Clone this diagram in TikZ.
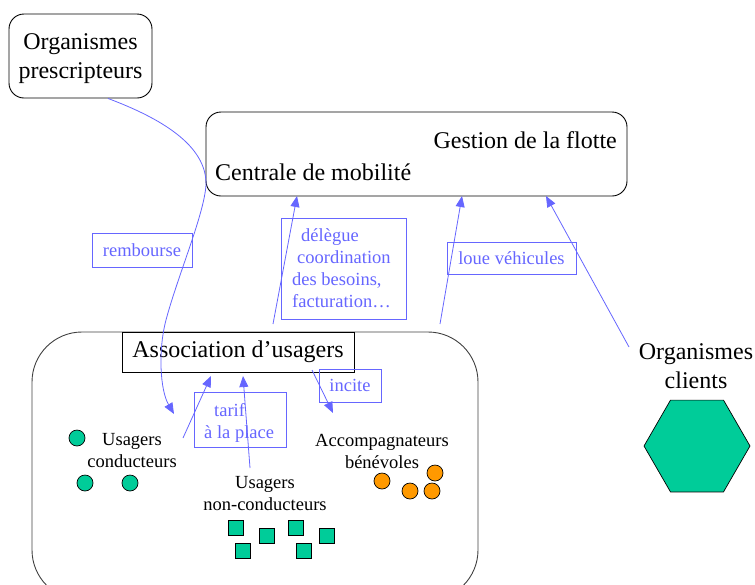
\documentclass[tikz,border=0pt]{standalone}
\usepackage{fontspec}
\setmainfont{Liberation Serif}
\usetikzlibrary{arrows.meta,shapes.geometric}
\definecolor{linkblue}{RGB}{102,102,255}
\definecolor{seagreen}{RGB}{0,204,153}
\definecolor{amber}{RGB}{255,153,0}

\begin{document}
\begin{tikzpicture}[x=1pt,y=-1pt,
  bigtext/.style={font=\fontsize{24}{29}\selectfont, inner sep=0pt},
  smalltext/.style={font=\fontsize{18.5}{22}\selectfont, inner sep=0pt},
  mainbox/.style={draw, line width=0.9pt, rounded corners=15pt, fill=white},
  tagbox/.style={draw=linkblue, line width=0.8pt, inner sep=0pt},
  tagtext/.style={smalltext, text=linkblue},
  flow/.style={linkblue, line width=0.8pt, -{Triangle[length=11pt,width=9pt]}},
  dot/.style={circle, draw, line width=0.7pt, minimum size=16pt, inner sep=0pt},
  tile/.style={rectangle, draw, line width=0.7pt, minimum size=15.5pt, inner sep=0pt, fill=seagreen}
]
\useasboundingbox (0,0) rectangle (755,584);
\clip (0,0) rectangle (755,584);

% user association container
\node[draw, black!75, line width=0.9pt, rounded corners=50pt,
      minimum width=446pt, minimum height=268pt] (assoc) at (255,466) {};
\node[draw, fill=white, line width=0.8pt, bigtext, minimum width=232pt, minimum height=40pt]
      (assoclabel) at (238,352) {Association d’usagers};

% prescribing organisations
\node[mainbox, minimum width=143pt, minimum height=84pt] (presc) at (80.5,56) {};
\node[bigtext, align=center] (presctext) at (80.5,59) {Organismes\\prescripteurs};

% mobility centre
\node[mainbox, minimum width=421pt, minimum height=84pt] (cm) at (416.5,154) {};
\node[bigtext, anchor=base east] (flotte) at (617,148) {Gestion de la flotte};
\node[bigtext, anchor=base west] (centrale) at (215,180) {Centrale de mobilité};

% client organisations
\node[bigtext, align=center] (clients) at (696,366) {Organismes\\clients};
\node[regular polygon, regular polygon sides=6, minimum size=106pt, inner sep=0pt,
      draw, line width=0.7pt, fill=seagreen] (hex) at (697,446) {};

% driving users
\node[smalltext, align=center] (cond) at (132,451) {Usagers\\conducteurs};
\node[dot, fill=seagreen] (g1) at (77,438) {};
\node[dot, fill=seagreen] (g2) at (85,483) {};
\node[dot, fill=seagreen] (g3) at (130,483) {};

% non-driving users
\node[smalltext, align=center] (noncond) at (265,494) {Usagers\\non-conducteurs};
\node[tile] (s1) at (236,528) {};
\node[tile] (s2) at (267,536) {};
\node[tile] (s3) at (296,528) {};
\node[tile] (s4) at (327,536) {};
\node[tile] (s5) at (243,551) {};
\node[tile] (s6) at (304,551) {};

% volunteer escorts
\node[smalltext, align=center] (accomp) at (382,451) {Accompagnateurs\\bénévoles};
\node[dot, fill=amber] (o1) at (382,481) {};
\node[dot, fill=amber] (o2) at (410,491) {};
\node[dot, fill=amber] (o3) at (435,473) {};
\node[dot, fill=amber] (o4) at (432,491) {};

% relation labels
\node[tagbox, tagtext, minimum width=100pt, minimum height=34pt] (remb) at (142,250) {rembourse};
\node[tagbox, minimum width=125pt, minimum height=101pt] (delegbox) at (343.5,268.5) {};
\node[tagtext, align=left, anchor=west] (delegtext) at (292,268.5)
      {\hspace*{9pt}délègue\\\hspace*{5pt}coordination\\des besoins,\\facturation…};
\node[tagbox, tagtext, minimum width=129pt, minimum height=32pt] (loue) at (511.5,258) {loue véhicules};
\node[tagbox, tagtext, minimum width=62pt, minimum height=33pt] (incite) at (350,385.5) {incite};
\node[tagbox, minimum width=92pt, minimum height=55pt] (tarifbox) at (240,419.5) {};
\node[tagtext, align=left, anchor=west] (tariftext) at (204,422.7)
      {\hspace*{10pt}tarif\\à la place};

% connector end points
\coordinate (rembEnd) at (174,414);
\coordinate (delegStart) at (273,324);
\coordinate (delegEnd) at (297,196);
\coordinate (loueStart) at (440,324);
\coordinate (loueEnd) at (462,196);
\coordinate (clientStart) at (629,347);
\coordinate (clientEnd) at (546,196);
\coordinate (inciteStart) at (312,370);
\coordinate (inciteEnd) at (333,413);
\coordinate (tarifAStart) at (183,438);
\coordinate (tarifAEnd) at (211,376);
\coordinate (tarifBStart) at (250,468);
\coordinate (tarifBEnd) at (243,376);

% connectors
\draw[flow] ([xshift=27.5pt]presc.south) .. controls (160,118) and (207,145) .. (206,185)
      .. controls (204,215) and (178,275) .. (166,320)
      .. controls (158,350) and (160,390) .. (rembEnd);
\draw[flow] (delegStart) -- (delegEnd);
\draw[flow] (loueStart) -- (loueEnd);
\draw[flow] (clientStart) -- (clientEnd);
\draw[flow] (inciteStart) -- (inciteEnd);
\draw[flow] (tarifAStart) -- (tarifAEnd);
\draw[flow] (tarifBStart) -- (tarifBEnd);
\end{tikzpicture}
\end{document}
